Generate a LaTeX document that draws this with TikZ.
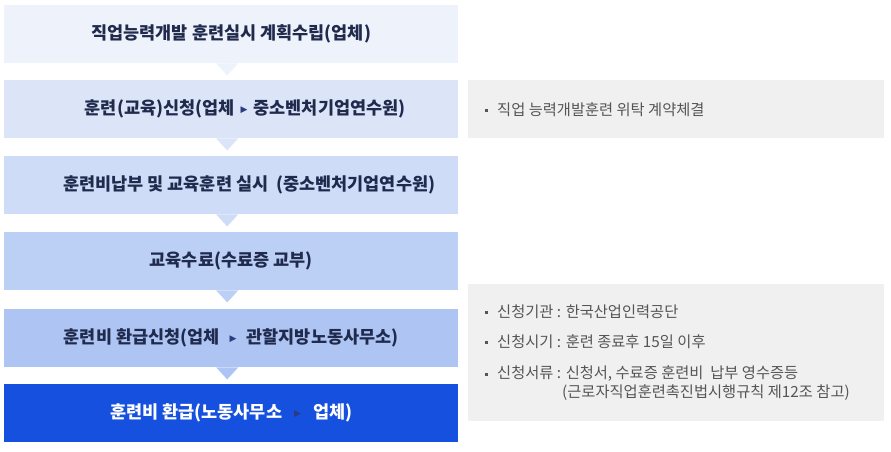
\documentclass[tikz,border=0pt]{standalone}
\usepackage{fontspec}
\setmainfont{Noto Sans CJK KR}
\newfontfamily\symfont{DejaVu Sans}
\usetikzlibrary{calc}

\definecolor{boxa}{HTML}{EEF2FB}
\definecolor{boxb}{HTML}{DCE5F7}
\definecolor{boxc}{HTML}{CEDCF7}
\definecolor{boxd}{HTML}{BCCFF5}
\definecolor{boxe}{HTML}{AEC5F4}
\definecolor{boxf}{HTML}{1550DE}
\definecolor{textdark}{HTML}{1F2A4D}
\definecolor{markdark}{HTML}{2A3B80}
\definecolor{notefill}{HTML}{F0F0F0}
\definecolor{notegray}{HTML}{555555}

\newcommand{\nextmark}[1]{\hspace{#1}\raisebox{2pt}{\symfont\fontsize{9}{9}\selectfont\color{markdark}▶}\hspace{#1}}

\tikzset{
  flowbox/.style={anchor=north west, minimum width=454pt, minimum height=58pt, inner sep=0pt},
  flowtext/.style={font=\bfseries\fontsize{17.5}{20}\selectfont, text=textdark, inner sep=0pt},
  notebox/.style={anchor=north west, fill=notefill, minimum width=416pt, inner sep=0pt},
  notetext/.style={font=\fontsize{15.3}{18}\selectfont, text=notegray, anchor=west, inner sep=0pt},
  notedot/.style={fill=notegray, minimum size=3pt, inner sep=0pt}
}

\begin{document}
\begin{tikzpicture}[x=1pt,y=-1pt]
\useasboundingbox[fill=white] (0,0) rectangle (891,451);

\node[flowbox, fill=boxa] (b1) at (4,5) {};
\node[flowbox, fill=boxb] (b2) at (4,80) {};
\node[flowbox, fill=boxc] (b3) at (4,156) {};
\node[flowbox, fill=boxd] (b4) at (4,232) {};
\node[flowbox, fill=boxe] (b5) at (4,309) {};
\node[flowbox, fill=boxf] (b6) at (4,384) {};

\foreach \a/\c in {b1/boxa, b2/boxb, b3/boxc, b4/boxd, b5/boxe}
  \fill[\c] ($(\a.south)+(-15,0)$) -- ($(\a.south)+(7,0)$) -- ($(\a.south)+(-4,12)$) -- cycle;

\node[flowtext] (t1) at (b1.center) {직업능력개발 훈련실시 계획수립(업체)};
\node[flowtext] (t2) at ([xshift=14pt]b2.center) {훈련(교육)신청(업체\nextmark{6pt}중소벤처기업연수원)};
\node[flowtext] (t3) at ([xshift=18pt]b3.center) {훈련비납부 및 교육훈련 실시\ \ (중소벤처기업연수원)};
\node[flowtext] (t4) at (b4.center) {교육수료(수료증 교부)};
\node[flowtext] (t5) at (b5.center) {훈련비 환급신청(업체\nextmark{10pt}관할지방노동사무소)};
\node[flowtext, text=white] (t6) at (b6.center) {훈련비 환급(노동사무소\nextmark{12pt}업체)};

% notes
\node[notebox, minimum height=58pt] (n1) at (468,80) {};
\node[notebox, minimum height=137pt] (n2) at (468,284) {};

\node[notedot] at (486,110) {};
\node[notetext] (m1) at (497,110) {직업 능력개발훈련 위탁 계약체결};

\node[notedot] at (486,312) {};
\node[notetext] (m2) at (497,312) {신청기관 : 한국산업인력공단};
\node[notedot] at (486,342) {};
\node[notetext] (m3) at (497,342) {신청시기 : 훈련 종료후 15일 이후};
\node[notedot] at (486,374) {};
\node[notetext] (m4) at (497,374) {신청서류 : 신청서, 수료증 훈련비\ \ 납부 영수증등};
\node[notetext] (m5) at (562,393) {(근로자직업훈련촉진법시행규칙 제12조 참고)};
\end{tikzpicture}
\end{document}
